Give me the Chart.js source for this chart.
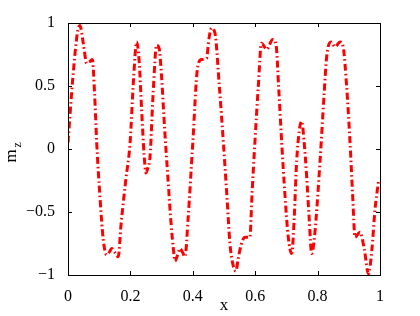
<!DOCTYPE html>
<html><head><meta charset="utf-8">
<script src="https://cdn.jsdelivr.net/npm/chart.js@4/dist/chart.umd.min.js"></script>
<style>html,body{margin:0;padding:0;background:#fff}canvas{display:block}</style>
</head><body>
<canvas id="c" width="420" height="316"></canvas>
<script>
const xValues = [0, 0.015, 0.03, 0.038, 0.049, 0.06, 0.068, 0.078, 0.085, 0.092, 0.103, 0.113, 0.124, 0.132, 0.14, 0.15, 0.161, 0.17, 0.185, 0.199, 0.21, 0.22, 0.228, 0.236, 0.244, 0.25, 0.256, 0.263, 0.273, 0.284, 0.292, 0.30, 0.31, 0.32, 0.33, 0.338, 0.343, 0.35, 0.359, 0.367, 0.375, 0.385, 0.40, 0.415, 0.428, 0.444, 0.452, 0.46, 0.471, 0.485, 0.498, 0.51, 0.519, 0.529, 0.538, 0.545, 0.551, 0.567, 0.583, 0.59, 0.599, 0.61, 0.62, 0.637, 0.656, 0.667, 0.675, 0.685, 0.695, 0.706, 0.717, 0.725, 0.733, 0.749, 0.757, 0.765, 0.773, 0.781, 0.79, 0.808, 0.82, 0.829, 0.843, 0.856, 0.872, 0.882, 0.893, 0.904, 0.912, 0.92, 0.936, 0.95, 0.963, 0.974, 0.984, 0.995];
const mzValues = [0.05, 0.55, 0.92, 0.98, 0.84, 0.68, 0.69, 0.71, 0.45, 0.05, -0.4, -0.72, -0.84, -0.82, -0.79, -0.82, -0.855, -0.6, -0.25, 0.05, 0.55, 0.85, 0.7, 0.31, -0.05, -0.19, -0.15, -0.06, 0.45, 0.825, 0.8, 0.57, 0.15, -0.22, -0.58, -0.80, -0.89, -0.85, -0.79, -0.82, -0.855, -0.55, 0.05, 0.64, 0.71, 0.72, 0.88, 0.96, 0.92, 0.5, 0.05, -0.4, -0.75, -0.92, -0.97, -0.88, -0.80, -0.70, -0.70, -0.35, 0.05, 0.5, 0.84, 0.79, 0.87, 0.825, 0.5, 0.05, -0.35, -0.70, -0.83, -0.55, -0.09, 0.22, 0.05, -0.22, -0.55, -0.83, -0.7, -0.09, 0.4, 0.73, 0.85, 0.81, 0.85, 0.81, 0.5, 0.05, -0.35, -0.70, -0.66, -0.8, -0.99, -0.8, -0.48, -0.26];
const xTicks = [0, 0.2, 0.4, 0.6, 0.8, 1];
const yTicks = [-1, -0.5, 0, 0.5, 1];
const xTitle = 'x';
const yTitleMain = 'm';
const yTitleSub = 'z';

const FONT = '"Liberation Serif", "Times New Roman", serif';
const fmt = v => (v < 0 ? '\u2212' : '') + String(Math.abs(Math.round(v * 100) / 100));

const framePlugin = {
  id: 'frame',
  afterDraw(chart) {
    const ctx = chart.ctx, a = chart.chartArea;
    const xs = chart.scales.x, ys = chart.scales.y;
    ctx.save();
    ctx.strokeStyle = '#000';
    ctx.lineWidth = 1;
    ctx.strokeRect(Math.round(a.left) + 0.5, Math.round(a.top) + 0.5, Math.round(a.right - a.left), Math.round(a.bottom - a.top));
    const L = 4;
    ctx.beginPath();
    xTicks.forEach(v => {
      const p = Math.round(xs.getPixelForValue(v)) + 0.5;
      ctx.moveTo(p, a.bottom); ctx.lineTo(p, a.bottom - L);
      ctx.moveTo(p, a.top); ctx.lineTo(p, a.top + L);
    });
    yTicks.forEach(v => {
      const p = Math.round(ys.getPixelForValue(v)) + 0.5;
      ctx.moveTo(a.left, p); ctx.lineTo(a.left + L, p);
      ctx.moveTo(a.right, p); ctx.lineTo(a.right - L, p);
    });
    ctx.stroke();
    // axis titles
    ctx.fillStyle = '#000';
    ctx.font = '17px ' + FONT;
    ctx.textAlign = 'center';
    ctx.textBaseline = 'alphabetic';
    ctx.fillText(xTitle, (a.left + a.right) / 2, 310);
    ctx.translate(16, (a.top + a.bottom) / 2 + 4);
    ctx.rotate(-Math.PI / 2);
    ctx.textAlign = 'left';
    ctx.font = '17px ' + FONT;
    const mw = ctx.measureText(yTitleMain).width;
    ctx.fillText(yTitleMain, -mw / 2 - 3, 0);
    ctx.font = '12px ' + FONT;
    ctx.fillText(yTitleSub, mw / 2 - 1, 5);
    ctx.restore();
  }
};

new Chart(document.getElementById('c'), {
  type: 'line',
  data: {
    datasets: [{
      data: xValues.map((x, i) => ({ x: x, y: mzValues[i] })),
      borderColor: '#ff0000',
      borderWidth: 3,
      borderDash: [7, 3, 1.5, 3],
      pointRadius: 0,
      cubicInterpolationMode: 'monotone',
      fill: false
    }]
  },
  options: {
    responsive: false,
    animation: false,
    devicePixelRatio: 1,
    layout: { padding: { left: 0, right: 40, top: 23, bottom: 0 } },
    plugins: { legend: { display: false }, tooltip: { enabled: false } },
    scales: {
      x: {
        type: 'linear', min: 0, max: 1,
        afterBuildTicks: s => { s.ticks = xTicks.map(v => ({ value: v })); },
        afterFit: s => { s.height = 41; },
        grid: { display: false },
        border: { display: false },
        ticks: { color: '#000', padding: 4, maxRotation: 0, font: { family: FONT, size: 16 }, callback: v => fmt(v) }
      },
      y: {
        type: 'linear', min: -1, max: 1,
        afterBuildTicks: s => { s.ticks = yTicks.map(v => ({ value: v })); },
        afterFit: s => { s.width = 68; },
        grid: { display: false },
        border: { display: false },
        ticks: { color: '#000', padding: 5, font: { family: FONT, size: 16 }, callback: v => fmt(v) }
      }
    }
  },
  plugins: [framePlugin]
});
</script>
</body></html>
